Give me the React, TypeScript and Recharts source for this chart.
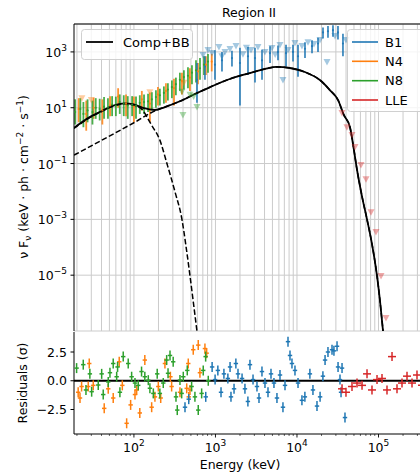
import React from 'react'
import {
  ComposedChart,
  Line,
  Scatter,
  ErrorBar,
  XAxis,
  YAxis,
  CartesianGrid,
  ReferenceLine,
} from 'recharts'

const FONT = '"DejaVu Sans", sans-serif'
const B1 = '#1f77b4'
const N4 = '#ff7f0e'
const N8 = '#2ca02c'
const LLE = '#d62728'
const GRID = '#cbcbcb'

// axes
const energyTicks = [
  20, 30, 40, 50, 60, 70, 80, 90,
  100, 200, 300, 400, 500, 600, 700, 800, 900,
  1000, 2000, 3000, 4000, 5000, 6000, 7000, 8000, 9000,
  10000, 20000, 30000, 40000, 50000, 60000, 70000, 80000, 90000,
  100000, 200000, 300000, 400000, 500000,
]
const fluxTicks = [1e-7, 1e-5, 1e-3, 1e-1, 1e1, 1e3]
const resTicks = [-2.5, 0, 2.5]

// model curves [keV, nuFnu]
const compBB = [
  [18.4, 1.9], [29, 4.7], [38, 7], [54, 11.5], [77, 14.4], [97, 13.5], [129, 9.8],
  [181, 8.3], [240, 10.6], [366, 17], [560, 31], [860, 55], [1500, 107], [2640, 174],
  [4050, 245], [5650, 290], [8200, 265], [12500, 190], [19100, 98], [25300, 43],
  [31800, 19], [37600, 5.5], [44700, 2.0], [50000, 0.3], [54500, 0.06], [63000, 0.0063],
  [72300, 0.001], [83200, 1.3e-4], [95600, 1e-5], [104000, 1.3e-6], [113600, 1e-7],
]
const bbOnly = [
  [18.4, 1.8], [29, 4.5], [38, 6.8], [54, 11], [77, 13.8], [103, 12], [129, 8],
  [150, 3.8], [166, 2.3], [208, 0.69], [254, 0.1], [318, 0.01], [388, 0.001],
  [437, 1e-4], [486, 1e-5], [537, 1e-6], [593, 1e-7],
]
const compOnly = [
  [18.4, 0.2], [30, 0.43], [50, 0.96], [100, 2.9], [186, 8], [240, 10.6], [366, 17],
  [560, 31], [860, 55], [1500, 107], [2640, 174], [4050, 245], [5650, 290], [8200, 265],
  [12500, 190], [19100, 98], [25300, 43], [31800, 19], [37600, 5.5], [44700, 2.0],
  [50000, 0.3], [54500, 0.06], [63000, 0.0063], [72300, 0.001], [83200, 1.3e-4],
  [95600, 1e-5], [104000, 1.3e-6], [113600, 1e-7],
]

// detections [keV, flux, low, high]
const n4Det = [
  [21, 9, 3, 22], [26, 6, 1.5, 18], [32, 10, 4, 23], [41, 8, 2.5, 20], [51, 12, 5, 26],
  [64, 25, 10, 50], [80, 14, 5, 30], [100, 11, 3, 25], [125, 20, 8, 40], [157, 14, 3, 35],
  [197, 30, 12, 55], [247, 40, 15, 75], [310, 50, 12, 110], [388, 90, 30, 180],
  [486, 120, 40, 260], [610, 200, 70, 400], [764, 350, 150, 700], [900, 450, 200, 850],
]
const n8Det = [
  [19, 7, 2.5, 20], [22, 9, 3, 22], [24, 6, 2, 16], [27, 8, 3, 20], [31, 7, 2.5, 18],
  [34, 10, 4, 22], [38, 9, 3.5, 21], [43, 11, 4, 24], [48, 10, 4, 22], [54, 13, 5, 26],
  [60, 12, 5, 25], [67, 16, 6, 30], [75, 14, 5, 28], [84, 12, 4, 26], [95, 13, 5, 26],
  [106, 12, 4, 25], [118, 15, 6, 28], [133, 16, 6, 30], [149, 17, 7, 32], [166, 20, 8, 36],
  [186, 24, 10, 42], [208, 28, 12, 48], [233, 34, 14, 58], [261, 45, 18, 75],
  [292, 55, 22, 95], [327, 70, 28, 120], [366, 100, 40, 180], [410, 125, 45, 220],
  [460, 140, 50, 280], [515, 180, 70, 330], [577, 220, 80, 500], [646, 260, 100, 600],
  [723, 350, 150, 700], [810, 450, 180, 850],
]
const b1Det = [
  [593, 100, 15, 400], [743, 300, 100, 700], [986, 350, 100, 1150], [1202, 500, 200, 1000],
  [1594, 600, 300, 1100], [1999, 400, 12, 1400], [2506, 700, 150, 1500], [3055, 600, 80, 1400],
  [3724, 500, 100, 1200], [4669, 900, 400, 1600], [5852, 1000, 500, 1700], [7337, 900, 300, 1800],
  [8939, 1000, 450, 1800], [10290, 700, 130, 1800], [12540, 1300, 600, 2200],
  [15290, 1600, 900, 2600], [18110, 2000, 1000, 3200], [20850, 5000, 3000, 7500],
  [24000, 5500, 3200, 8500], [27640, 6000, 3500, 9000], [31830, 5000, 2800, 8500],
  [36640, 2000, 700, 4500],
]

// upper limits [keV, flux]
const n4Ul = [[23, 22], [30, 19], [157, 36], [410, 78]]
const n8Ul = [[388, 37], [399, 5.5], [487, 29], [540, 25], [593, 10.6]]
const b1Ul = [
  [703, 776], [810, 1175], [906, 912], [1104, 1514], [1200, 700], [1309, 1000], [1507, 1259],
  [1786, 1622], [2175, 832], [2400, 1400], [2728, 1175], [3321, 1514], [4046, 1000],
  [4932, 1380], [5400, 800], [6180, 1778], [6730, 98], [7762, 1175], [9440, 2089],
  [11510, 1622], [13650, 2239], [16180, 1905], [19150, 2692], [23350, 437], [29240, 3715],
  [39900, 2692],
]
const lleUl = [
  [35650, 6.5], [41000, 2.0], [47300, 1.05], [51500, 0.39], [61000, 0.089],
  [70300, 0.0275], [80900, 0.0018], [93100, 3.5e-4], [107400, 9.3e-6], [123600, 2.95e-7],
]

// residuals [keV, sigma]
const n4Res = [
  [20.7, -1.0], [21.8, -1.5], [22.8, -0.5], [27.5, -0.5], [28.3, 1.5], [31.7, -0.4],
  [43.2, -2.4], [48.4, -0.7], [55.7, -1.5], [66, 1.65], [72, -0.4], [81.4, -3.7],
  [91.1, -2.1], [103, -1.2], [108, -0.8], [118, -2.8], [136, 1.8], [165, -2.3], [181, -1.4],
  [199, -0.5], [213, -1.5], [240, 1.5], [280, 0.35], [290, -0.5], [367, -1.0], [444, -0.66],
  [464, 1.5], [470, -1.4], [487, -0.8], [534, 2.7], [615, 3.1], [645, 0.7], [743, 2.8],
  [780, 2.4],
]
const n8Res = [
  [19.8, 1.1], [23.9, 1.4], [25.8, -0.8], [28.8, 0.6], [30.3, -0.95], [36.5, -0.37],
  [40.2, 0.6], [42.0, -1.2], [48.4, -0.1], [50.8, 0.7], [55.7, 1.5], [61.4, 0.35],
  [63, 1.2], [67.3, -1.0], [73.9, 2.1], [85.1, 1.5], [93.7, 0.35], [103, -0.2], [113, -0.4],
  [124, 0.8], [136, 0.35], [150, 0.05], [157, -0.65], [173, -1.1], [193, 0.6], [208, -1.1],
  [229, -0.2], [252, 1.8], [262, 0.65], [277, 2.2], [303, 1.65], [328, -1.4], [340, -2.55],
  [367, 0.06], [385, -1.1], [403, 0.35], [451, 0.9], [510, -0.5], [560, -1.4], [615, -2.55],
  [677, -1.1], [708, 0.9], [758, 2.1], [816, 0.0],
]
const b1Res = [
  [423, -2.3], [470, -1.6], [760, -1.4], [910, 1.2], [990, 0.1], [1070, 0.9], [1170, -1.0],
  [1270, 0.6], [1420, 0.2], [1510, 1.2], [1550, -1.4], [1690, -0.7], [1780, 1.5], [1890, 0.6],
  [2120, 0.2], [2300, -0.7], [2500, -1.8], [2650, 1.4], [2890, 0.1], [3230, -0.5],
  [3420, -1.5], [3720, 0.8], [4050, -0.2], [4410, -1.0], [4800, 0.6], [5220, -0.2],
  [5680, -1.5], [6190, 0.5], [6730, -2.3], [7130, -0.4], [7760, 3.4], [8210, 2.2],
  [8680, 1.5], [9450, 0.9], [10300, -0.2], [11500, -1.7], [12500, -1.4], [14400, 0.6],
  [15700, -0.8], [17600, -2.2], [19200, -1.4], [20800, 0.4], [22100, 1.8], [24000, 2.5],
  [26900, 2.7], [28400, 2.6], [31000, 3.0], [31900, 1.2], [33700, 0.1], [34700, -1.0],
  [35700, 1.1], [38800, -3.2],
]
const lleRes = [
  [35700, -0.7], [39900, -1.0], [47300, -0.5], [54500, -0.2], [62800, -0.4], [72300, 0.6],
  [83200, -0.8], [95900, 0.1], [110400, 0.2], [127100, -0.8], [146500, 2.1], [168600, -0.7],
  [194200, -0.2], [223700, 0.4], [257600, -0.2], [296600, 0.5], [341800, -0.4], [393700, 0.3],
]

const toFlux = (rows: number[][]) => rows.map(([e, f]) => ({ e, f }))
const toDet = (rows: number[][]) => rows.map(([e, f, lo, hi]) => ({ e, f, err: [f - lo, hi - f] }))
const toRes = (rows: number[][]) => rows.map(([e, r]) => ({ e, r }))

const dot = (color: string) => (p: any) => <circle cx={p.cx} cy={p.cy} r={1.1} fill={color} fillOpacity={0.85} />
const downTri = (color: string) => (p: any) => (
  <path
    d={`M${p.cx - 3.5},${p.cy - 3} L${p.cx + 3.5},${p.cy - 3} L${p.cx},${p.cy + 3.5} Z`}
    fill={color}
    fillOpacity={0.4}
  />
)
const cross = (color: string, hw: number, hh: number) => (p: any) => (
  <g stroke={color} strokeWidth={1.5}>
    <line x1={p.cx - hw} x2={p.cx + hw} y1={p.cy} y2={p.cy} />
    <line x1={p.cx} x2={p.cx} y1={p.cy - hh} y2={p.cy + hh} />
  </g>
)

function FluxTick({ x, y, payload }: any) {
  const p = Math.round(Math.log10(payload.value))
  return (
    <text x={x} y={y + 5} textAnchor="end" fontSize={12.5} fontFamily={FONT} fill="#000">
      10<tspan dy={-6} fontSize={9}>{p < 0 ? `−${-p}` : `${p}`}</tspan>
    </text>
  )
}

function ResTick({ x, y, payload }: any) {
  const v = payload.value
  const s = v === 0 ? '0.0' : (v < 0 ? '−' : '') + Math.abs(v).toFixed(1)
  return (
    <text x={x} y={y + 4.5} textAnchor="end" fontSize={12.5} fontFamily={FONT} fill="#000">
      {s}
    </text>
  )
}

function EnergyTick({ x, y, payload }: any) {
  const lg = Math.log10(payload.value)
  const major = Math.abs(lg - Math.round(lg)) < 1e-6
  return (
    <g>
      <line x1={x} x2={x} y1={y} y2={y + (major ? 3.5 : 2)} stroke="#000" strokeWidth={major ? 0.9 : 0.6} />
      {major && (
        <text x={x} y={y + 17.5} textAnchor="middle" fontSize={12.5} fontFamily={FONT} fill="#000">
          10<tspan dy={-6} fontSize={9}>{Math.round(lg)}</tspan>
        </text>
      )}
    </g>
  )
}

const X_DOMAIN: [number, number] = [18.4, 568000]

export default function App() {
  return (
    <div style={{ position: 'absolute', left: 0, top: 0, width: 420, height: 475, overflow: 'hidden', background: '#fff', fontFamily: FONT }}>
      <div style={{ position: 'absolute', left: 0, top: 0 }}>
        <ComposedChart width={440} height={332} margin={{ top: 24, right: 0, bottom: 1, left: 0 }}>
          <CartesianGrid stroke={GRID} strokeWidth={1} vertical={false} />
          <XAxis dataKey="e" type="number" scale="log" domain={X_DOMAIN} ticks={energyTicks} allowDataOverflow
            height={0} tick={false} tickLine={false} axisLine={{ stroke: '#000', strokeWidth: 1.2 }} />
          <YAxis type="number" scale="log" domain={[1e-7, 1e4]} ticks={fluxTicks} allowDataOverflow width={74}
            tick={<FluxTick />} tickSize={3.5} tickMargin={3.5} stroke="#000" />
          {energyTicks.map((t) => (
            <ReferenceLine key={t} x={t} stroke={GRID} strokeWidth={1} />
          ))}
          <Scatter data={toFlux(n4Ul)} dataKey="f" shape={downTri(N4)} isAnimationActive={false} />
          <Scatter data={toFlux(n8Ul)} dataKey="f" shape={downTri(N8)} isAnimationActive={false} />
          <Scatter data={toFlux(b1Ul)} dataKey="f" shape={downTri(B1)} isAnimationActive={false} />
          <Scatter data={toFlux(lleUl)} dataKey="f" shape={downTri(LLE)} isAnimationActive={false} />
          <Scatter data={toDet(n4Det)} dataKey="f" shape={dot(N4)} isAnimationActive={false}>
            <ErrorBar dataKey="err" direction="y" width={0} stroke={N4} strokeWidth={1.8} strokeOpacity={0.85} />
          </Scatter>
          <Scatter data={toDet(n8Det)} dataKey="f" shape={dot(N8)} isAnimationActive={false}>
            <ErrorBar dataKey="err" direction="y" width={0} stroke={N8} strokeWidth={1.8} strokeOpacity={0.85} />
          </Scatter>
          <Scatter data={toDet(b1Det)} dataKey="f" shape={dot(B1)} isAnimationActive={false}>
            <ErrorBar dataKey="err" direction="y" width={0} stroke={B1} strokeWidth={1.8} strokeOpacity={0.85} />
          </Scatter>
          <Line data={toFlux(compOnly)} dataKey="f" type="monotone" stroke="#000" strokeWidth={1.5}
            strokeDasharray="5.5 2.4" dot={false} isAnimationActive={false} />
          <Line data={toFlux(bbOnly)} dataKey="f" type="monotone" stroke="#000" strokeWidth={1.5}
            strokeDasharray="5.5 2.4" dot={false} isAnimationActive={false} />
          <Line data={toFlux(compBB)} dataKey="f" type="monotone" stroke="#000" strokeWidth={1.8}
            dot={false} isAnimationActive={false} />
          <ReferenceLine y={1e4} stroke="#000" strokeWidth={1.2} />
        </ComposedChart>
      </div>
      <div style={{ position: 'absolute', left: 0, top: 331 }}>
        <ComposedChart width={440} height={143} margin={{ top: 1, right: 0, bottom: 0, left: 0 }}>
          <XAxis dataKey="e" type="number" scale="log" domain={X_DOMAIN} ticks={energyTicks} allowDataOverflow
            height={40} tick={<EnergyTick />} tickLine={false} tickSize={0} tickMargin={0} interval={0}
            axisLine={{ stroke: '#000', strokeWidth: 1.2 }} />
          <YAxis type="number" domain={[-4.63, 4.24]} ticks={resTicks} allowDataOverflow width={74}
            tick={<ResTick />} tickSize={3.5} tickMargin={3.5} stroke="#000" />
          <Scatter data={toRes(n4Res)} dataKey="r" shape={cross(N4, 2.2, 5)} isAnimationActive={false} />
          <Scatter data={toRes(n8Res)} dataKey="r" shape={cross(N8, 2.2, 5)} isAnimationActive={false} />
          <Scatter data={toRes(b1Res)} dataKey="r" shape={cross(B1, 2.2, 5)} isAnimationActive={false} />
          <Scatter data={toRes(lleRes)} dataKey="r" shape={cross(LLE, 4, 4.5)} isAnimationActive={false} />
          <ReferenceLine y={0} stroke="#000" strokeWidth={1.8} />
        </ComposedChart>
      </div>
      <svg width={420} height={475} style={{ position: 'absolute', left: 0, top: 0, pointerEvents: 'none' }}
        fontFamily={FONT} fill="#000">
        <text x={249} y={17} textAnchor="middle" fontSize={12.5}>Region II</text>
        <text transform="translate(28,177) rotate(-90)" textAnchor="middle" fontSize={12.5}>
          ν F<tspan dy={3} fontSize={9}>ν</tspan>
          <tspan dy={-3}> (keV · ph · cm</tspan>
          <tspan dy={-5} fontSize={9}>−2</tspan>
          <tspan dy={5}> · s</tspan>
          <tspan dy={-5} fontSize={9}>−1</tspan>
          <tspan dy={5}>)</tspan>
        </text>
        <text transform="translate(26.5,383) rotate(-90)" textAnchor="middle" fontSize={12.5}>Residuals (σ)</text>
        <text x={240} y={469} textAnchor="middle" fontSize={12.5}>Energy (keV)</text>

        <rect x={81.5} y={29.5} width={111} height={30} rx={3} fill="#fff" fillOpacity={0.8} stroke="#d0d0d0" />
        <line x1={86} x2={113} y1={42} y2={42} stroke="#000" strokeWidth={1.8} />
        <text x={123} y={46.7} fontSize={13}>Comp+BB</text>

        <rect x={347.5} y={29.5} width={100} height={82} rx={3} fill="#fff" fillOpacity={0.8} stroke="#d0d0d0" />
        {[['B1', B1, 42], ['N4', N4, 61.3], ['N8', N8, 80.7], ['LLE', LLE, 100]].map(([name, color, y]) => (
          <g key={name as string}>
            <line x1={352} x2={378} y1={y as number} y2={y as number} stroke={color as string} strokeWidth={1.6} />
            <text x={385} y={(y as number) + 4.7} fontSize={13}>{name}</text>
          </g>
        ))}
      </svg>
    </div>
  )
}
